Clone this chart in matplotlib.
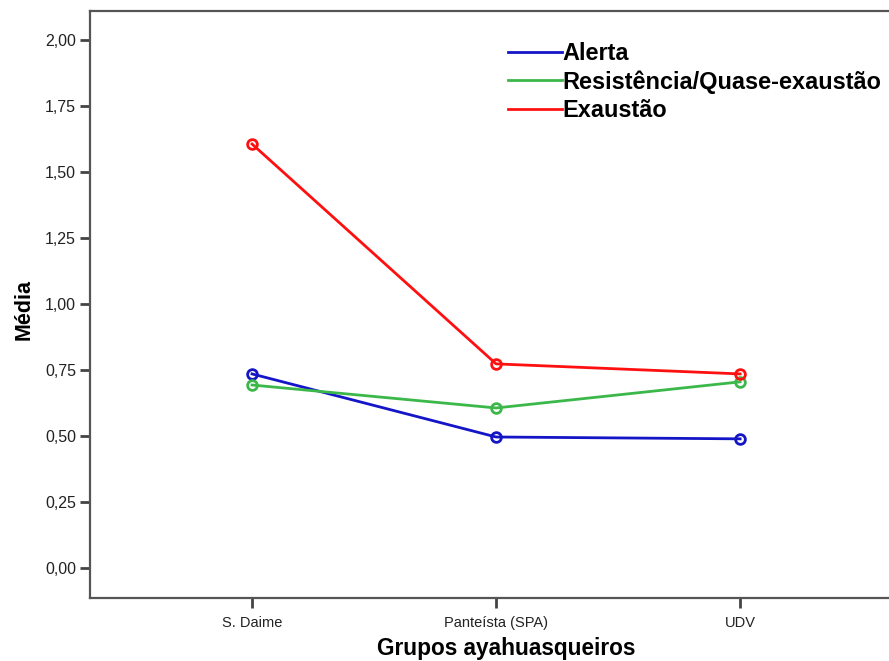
import matplotlib
matplotlib.use("Agg")
from matplotlib import pyplot as plt
from matplotlib.lines import Line2D

plt.rcParams["font.family"] = ["Liberation Sans", "DejaVu Sans"]

# data
groups = ["S. Daime", "Panteísta (SPA)", "UDV"]
alerta = [0.735, 0.496, 0.489]
resistencia = [0.693, 0.606, 0.705]
exaustao = [1.606, 0.773, 0.735]
series_names = ["Alerta", "Resistência/Quase-exaustão", "Exaustão"]
yticks = [0.0, 0.25, 0.5, 0.75, 1.0, 1.25, 1.5, 1.75, 2.0]

colors = ["#1515c8", "#3cb84a", "#ff1010"]

fig = plt.figure(figsize=(8.89, 6.61), dpi=100)
ax = fig.add_axes([90 / 889, 1 - 598 / 661, 1 - 90 / 889, (598 - 11) / 661])

x = list(range(len(groups)))
for vals, c in zip([alerta, resistencia, exaustao], colors):
    ax.plot(x, vals, color=c, lw=2, marker="o", ms=7, mfc="none", mec=c, mew=2)

ax.set_xlim(-0.664, 2.61)
ax.set_ylim(-0.114, 2.11)
ax.set_xticks(x)
ax.set_xticklabels(groups, fontsize=10.5, color="#222222")
ax.set_yticks(yticks)
ax.set_yticklabels([f"{t:.2f}".replace(".", ",") for t in yticks], fontsize=11.5, color="#222222")
ax.tick_params(axis="both", direction="out", length=7, width=2, color="#444444", pad=3)
ax.tick_params(axis="x", pad=6)

for s in ["left", "bottom", "top"]:
    ax.spines[s].set_linewidth(1.6)
    ax.spines[s].set_color("#555555")
ax.spines["right"].set_visible(False)

ax.set_ylabel("Média", fontsize=15.5, fontweight="bold", va="center")
ax.yaxis.set_label_coords(24 / 889, 1 - 309 / 661, transform=fig.transFigure)
ax.set_xlabel("Grupos ayahuasqueiros", fontsize=16.3, fontweight="bold", va="center")
ax.xaxis.set_label_coords(506 / 889, 1 - 648 / 661, transform=fig.transFigure)

handles = [Line2D([], [], color=c, lw=2) for c in colors]
leg = ax.legend(handles, series_names, loc="upper left",
                bbox_to_anchor=(508 / 889, 1 - 42 / 661), bbox_transform=fig.transFigure,
                frameon=False, handlelength=2.3, handletextpad=0.0, borderaxespad=0,
                borderpad=0, labelspacing=0.22, prop={"size": 16.9, "weight": "bold"})

fig.savefig("out.png", dpi=100)
